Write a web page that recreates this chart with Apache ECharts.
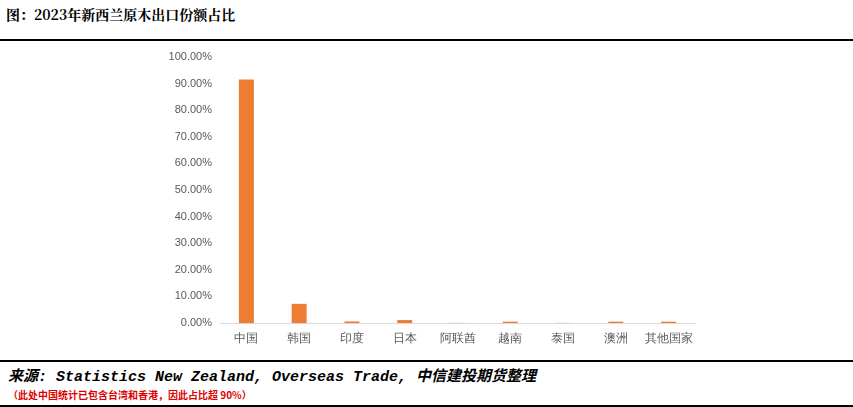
<!DOCTYPE html>
<html><head><meta charset="utf-8">
<script src="https://cdn.jsdelivr.net/npm/echarts@6/dist/echarts.min.js"></script>
<style>
body{margin:0;width:853px;height:407px;background:#fff;position:relative;overflow:hidden;font-family:"Noto Sans CJK SC",sans-serif}
#title{position:absolute;left:6px;top:4px;font-size:14px;font-weight:bold;font-family:"Noto Serif CJK SC","Noto Sans CJK SC",serif}
.ln{position:absolute;left:0;width:853px;height:2px;background:#000}
#chart{position:absolute;left:0;top:42px;width:853px;height:318px}
#src{position:absolute;left:8px;top:364px;font-size:15px;font-style:italic;font-weight:bold;font-family:"Liberation Mono","Noto Sans CJK SC",monospace}
#note{position:absolute;left:8px;top:387px;font-size:10px;color:#e00000;font-weight:bold}
</style></head><body>
<div id="title">图：2023年新西兰原木出口份额占比</div>
<div class="ln" style="top:39px"></div>
<div id="chart"></div>
<div class="ln" style="top:360px"></div>
<div id="src">来源:  Statistics New Zealand, Overseas Trade, 中信建投期货整理</div>
<div id="note">（此处中国统计已包含台湾和香港，因此占比超 90%）</div>
<div class="ln" style="top:405px"></div>
<script>
// 数据
const countries = ["中国","韩国","印度","日本","阿联酋","越南","泰国","澳洲","其他国家"];
const shares = [91.5, 7.2, 0.6, 1.1, 0.05, 0.5, 0.05, 0.5, 0.5];
let myChart = echarts.init(document.getElementById("chart"));
myChart.setOption({
	animation:false,
	grid:{left:220,right:158,top:15,bottom:37},
	xAxis:{type:"category",data:countries,
		axisLine:{lineStyle:{color:"#d9d9d9"}},axisTick:{show:false},
		axisLabel:{color:"#595959",fontSize:12,margin:10,interval:0}},
	yAxis:{type:"value",min:0,max:100,interval:10,splitLine:{show:false},
		axisLabel:{color:"#595959",fontSize:11,formatter:v=>v.toFixed(2)+"%"}},
	series:[{type:"bar",data:shares,barWidth:15,itemStyle:{color:"#ed7d31"}}]
});
</script>
</body></html>
